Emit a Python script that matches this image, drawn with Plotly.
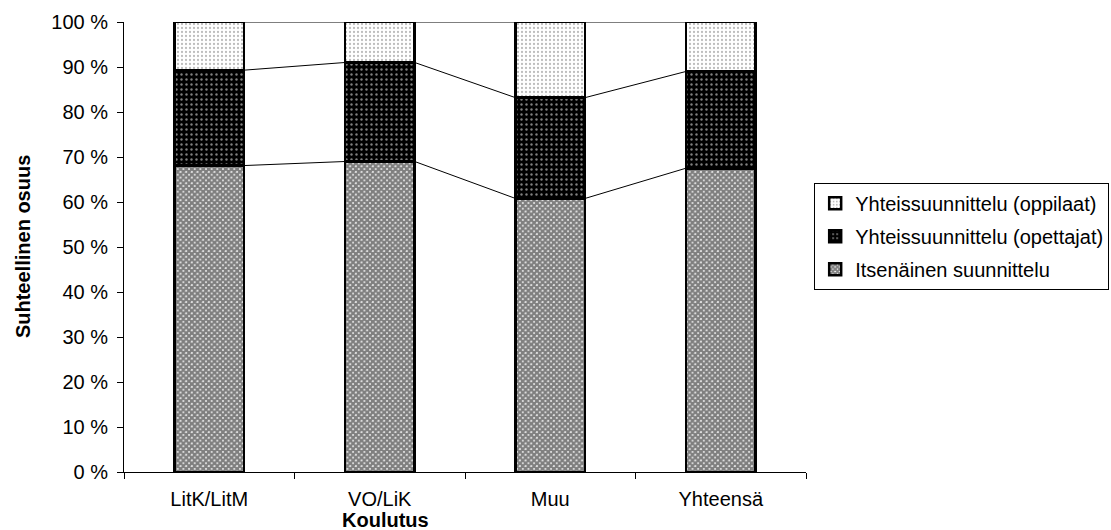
import plotly.graph_objects as go

# Koulutus categories and stacked shares (%)
categories = ["LitK/LitM", "VO/LiK", "Muu", "Yhteensä"]
itsenainen = [68.1, 69.0, 60.8, 67.5]
opettajat = [21.2, 22.0, 22.4, 21.5]
oppilaat = [10.7, 9.0, 16.8, 11.0]

series_names = [
    "Itsenäinen suunnittelu",
    "Yhteissuunnittelu (opettajat)",
    "Yhteissuunnittelu (oppilaat)",
]
y_ticks = list(range(0, 101, 10))

FONT = "Liberation Sans, Arial, sans-serif"
BAR_W = 0.41
xs = list(range(len(categories)))

patterns = [
    dict(shape="x", size=4, solidity=0.85, fgcolor="#000000", bgcolor="#ffffff"),
    dict(shape=".", size=5, solidity=0.18, fgcolor="#ffffff", bgcolor="#000000"),
    dict(shape=".", size=4, solidity=0.25, fgcolor="#7a7a7a", bgcolor="#ffffff"),
]

fig = go.Figure()
for rank, (name, vals, pat) in enumerate(
        zip(series_names, [itsenainen, opettajat, oppilaat], patterns)):
    fig.add_trace(go.Bar(
        x=xs, y=vals, name=name, width=BAR_W, legendgroup=name,
        legendrank=len(series_names) - rank,
        marker=dict(color=pat["bgcolor"], pattern=pat,
                    line=dict(color="#000000", width=2.5)),
    ))

# Series lines joining the stack boundaries of neighbouring bars
cum = [0.0] * len(categories)
for vals in [itsenainen, opettajat, oppilaat]:
    cum = [c + v for c, v in zip(cum, vals)]
    lx, ly = [], []
    for i in range(len(categories) - 1):
        lx += [xs[i] + BAR_W / 2, xs[i + 1] - BAR_W / 2, None]
        ly += [cum[i], cum[i + 1], None]
    fig.add_trace(go.Scatter(x=lx, y=ly, mode="lines", showlegend=False,
                             line=dict(color="#000000", width=1), hoverinfo="skip"))

fig.update_layout(
    width=1111, height=530,
    margin=dict(l=124, r=305, t=22, b=58, autoexpand=False),
    paper_bgcolor="white", plot_bgcolor="white",
    barmode="stack",
    font=dict(family=FONT, size=20, color="#000000"),
    showlegend=True,
    legend=dict(
        traceorder="grouped",
        x=1.012, xanchor="left", y=0.524, yanchor="middle",
        bordercolor="#000000", borderwidth=1, bgcolor="white",
        font=dict(family=FONT, size=20), itemwidth=30, tracegroupgap=4,
    ),
    xaxis=dict(
        range=[-0.5, 3.5], tickmode="array", tickvals=xs, ticktext=categories,
        ticks="", ticklabelstandoff=9, showline=True, linecolor="#000000", linewidth=1,
        showgrid=False, zeroline=False, fixedrange=True,
        minor=dict(tick0=0.5, dtick=1, ticks="outside", ticklen=6,
                   tickcolor="#000000", showgrid=False),
    ),
    yaxis=dict(
        range=[0, 100], tickmode="array", tickvals=y_ticks,
        ticktext=[f"{t} %" for t in y_ticks],
        ticks="outside", ticklen=6, tickcolor="#000000", ticklabelstandoff=5,
        showline=True, linecolor="#000000", linewidth=1,
        showgrid=False, zeroline=False,
    ),
    annotations=[
        dict(text="<b>Koulutus</b>", xref="paper", yref="paper",
             x=0.383, y=0, yshift=-48, xanchor="center", yanchor="middle",
             showarrow=False, font=dict(size=20)),
        dict(text="<b>Suhteellinen osuus</b>", xref="paper", yref="paper",
             x=-0.148, y=0.5, xanchor="center", yanchor="middle", textangle=-90,
             showarrow=False, font=dict(size=20)),
    ],
)

fig.write_html("out.html")
